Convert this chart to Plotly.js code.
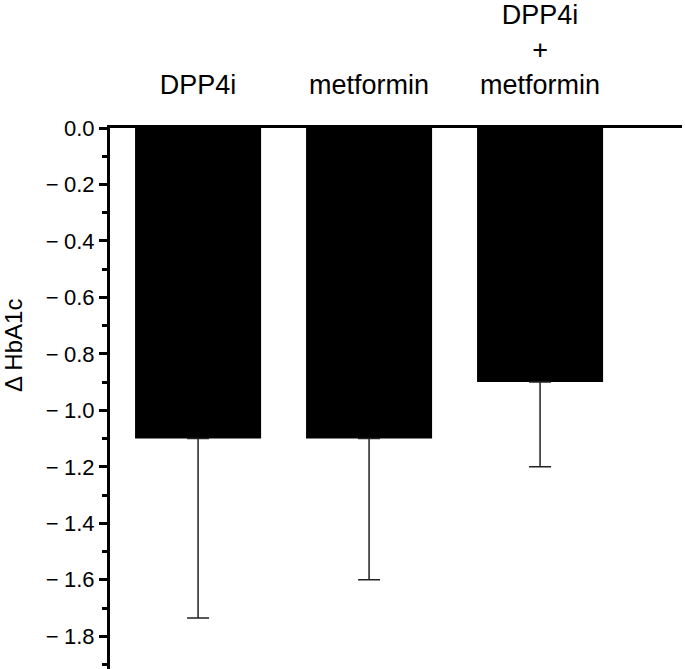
<!DOCTYPE html>
<html>
<head>
<meta charset="utf-8">
<script src="https://cdn.plot.ly/plotly-3.0.1.min.js"></script>
<style>html,body{margin:0;padding:0;background:#fff;}#chart{width:685px;height:669px;}</style>
</head>
<body>
<div id="chart"></div>
<script>
const categories = ["DPP4i", "metformin", "DPP4i<br>+<br>metformin"];
const deltaHbA1c = [-1.1, -1.1, -0.9];
const errorMinus = [0.635, 0.5, 0.3];
const errorPlus = [0, 0, 0];
const yTickVals = [0, -0.2, -0.4, -0.6, -0.8, -1.0, -1.2, -1.4, -1.6, -1.8];
const yTickText = ["0.0", "\u2212\u20050.2", "\u2212\u20050.4", "\u2212\u20050.6", "\u2212\u20050.8", "\u2212\u20051.0", "\u2212\u20051.2", "\u2212\u20051.4", "\u2212\u20051.6", "\u2212\u20051.8"];
const yTitle = "Δ HbA1c";

const FONT = "Liberation Sans, Arial, Helvetica, sans-serif";

const trace = {
  type: "bar",
  x: [0, 1, 2],
  y: deltaHbA1c,
  marker: {color: "#000000", line: {width: 0}},
  error_y: {
    type: "data",
    symmetric: false,
    array: errorPlus,
    arrayminus: errorMinus,
    width: 11,
    thickness: 1.5,
    color: "#222222"
  },
  hoverinfo: "none"
};

const layout = {
  width: 685,
  height: 669,
  margin: {l: 110, r: 3, t: 128, b: 0, pad: 0},
  paper_bgcolor: "#ffffff",
  plot_bgcolor: "#ffffff",
  showlegend: false,
  bargap: 0.263,
  font: {family: FONT, color: "#000000"},
  xaxis: {
    side: "top",
    range: [-0.515, 2.83],
    tickmode: "array",
    tickvals: [0, 1, 2],
    ticktext: categories,
    ticks: "",
    ticklabelstandoff: 20,
    showline: true,
    linewidth: 3,
    linecolor: "#000000",
    showgrid: false,
    zeroline: false,
    tickfont: {family: FONT, size: 27, color: "#000000"},
    fixedrange: true
  },
  yaxis: {
    range: [-1.916, 0],
    tickmode: "array",
    tickvals: yTickVals,
    ticktext: yTickText,
    ticks: "outside",
    ticklen: 8,
    tickwidth: 3,
    tickcolor: "#000000",
    minor: {dtick: 0.1, tick0: 0, ticks: "outside", ticklen: 5, tickwidth: 3, tickcolor: "#000000", showgrid: false},
    showline: true,
    linewidth: 3,
    linecolor: "#000000",
    showgrid: false,
    zeroline: false,
    tickfont: {family: FONT, size: 22, color: "#000000"},
    fixedrange: true
  },
  annotations: [{
    text: yTitle,
    xref: "paper", yref: "paper",
    x: 0, y: 0.597,
    xanchor: "center", yanchor: "middle",
    xshift: -97,
    textangle: -90,
    showarrow: false,
    font: {family: FONT, size: 24, color: "#000000"}
  }]
};

Plotly.newPlot("chart", [trace], layout, {displayModeBar: false, staticPlot: true});
</script>
</body>
</html>
